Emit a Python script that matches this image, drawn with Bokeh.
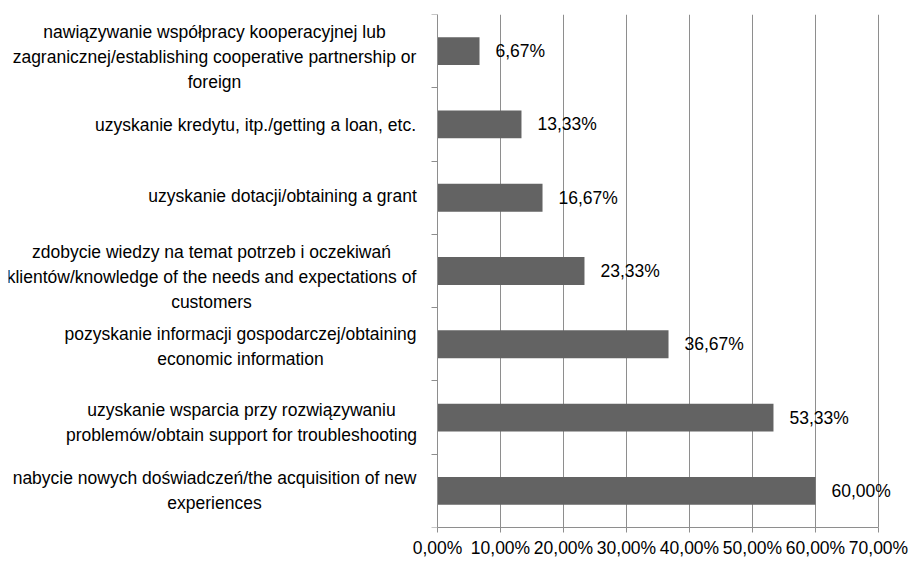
from bokeh.plotting import figure
from bokeh.models import Range1d, FixedTicker, CustomLabelingPolicy
from bokeh.core.properties import value
from bokeh.embed import file_html
from bokeh.resources import INLINE

# Data (bottom to top, as drawn)
categories = [
    "nabycie nowych doświadczeń/the acquisition of new\nexperiences",
    "uzyskanie wsparcia przy rozwiązywaniu\nproblemów/obtain support for troubleshooting",
    "pozyskanie informacji gospodarczej/obtaining\neconomic information",
    "zdobycie wiedzy na temat potrzeb i oczekiwań\nklientów/knowledge of the needs and expectations of\ncustomers",
    "uzyskanie dotacji/obtaining a grant",
    "uzyskanie kredytu, itp./getting a loan, etc.",
    "nawiązywanie współpracy kooperacyjnej lub\nzagranicznej/establishing cooperative partnership or\nforeign",
]
values = [60.00, 53.33, 36.67, 23.33, 16.67, 13.33, 6.67]
x_ticks = [0, 10, 20, 30, 40, 50, 60, 70]
x_tick_labels = ["0,00%", "10,00%", "20,00%", "30,00%", "40,00%", "50,00%", "60,00%", "70,00%"]

# layout of the category label blocks: centre x (px on the page), vertical nudge (px, + = down)
label_centre_px = [214, 241, 240, 211, 282, 255, 214]
label_nudge_px = [0, 5, 2, 6, -2, 1, 6]

FONT = "Liberation Sans"
GRID = "#8e8e8e"
FS = "17.5px"
W, H = 908, 564
TOP, BOTTOM, LEFT = 14, 37, 8
AXIS_X = 437          # page x of the value 0 (the category axis)
PX_PER_UNIT = 6.3     # px per percentage point (70% -> x=878)

n = len(categories)
pos = list(range(n))

# The frame spans the whole width; the category axis is fixed at value 0 inside it.
x_start = -(AXIS_X - LEFT) / PX_PER_UNIT
x_end = (W - AXIS_X) / PX_PER_UNIT

p = figure(width=W, height=H, output_backend="svg", toolbar_location=None,
           x_range=Range1d(x_start, x_end), y_range=Range1d(-0.5, n - 0.5),
           min_border_left=LEFT, min_border_right=0, min_border_top=TOP, min_border_bottom=BOTTOM)
p.outline_line_color = None
p.background_fill_color = "white"
p.border_fill_color = "white"

p.hbar(y=pos, left=0, right=values, height=0.38,
       fill_color="#636363", line_color=None)

xa = p.xaxis[0]
xa.ticker = FixedTicker(ticks=x_ticks)
xa.bounds = (0, 70)
xa.major_label_overrides = {t: l for t, l in zip(x_ticks, x_tick_labels)}
xa.axis_line_color = GRID
xa.major_tick_line_color = GRID
xa.major_tick_out = 5
xa.major_tick_in = 0
xa.minor_tick_line_color = None
xa.major_label_text_font = FONT
xa.major_label_text_font_size = FS
xa.major_label_text_color = "black"
xa.major_label_standoff = 5

# category axis: line + tick marks between categories, no tick labels of its own
y_bounds = [i - 0.5 for i in range(n + 1)]
ya = p.yaxis[0]
ya.fixed_location = 0
ya.ticker = FixedTicker(ticks=y_bounds)
ya.major_label_overrides = {t: "" for t in y_bounds}
ya.major_label_policy = CustomLabelingPolicy(code="return new Set()")
ya.major_label_text_font_size = "0px"
ya.major_label_standoff = 0
ya.axis_line_color = GRID
ya.major_tick_line_color = GRID
ya.major_tick_out = 6
ya.major_tick_in = 0
ya.minor_tick_line_color = None

p.xgrid.ticker = FixedTicker(ticks=x_ticks)
p.xgrid.bounds = (0, 70)
p.xgrid.grid_line_color = GRID
p.ygrid.grid_line_color = None

# value labels
p.text(x=values, y=pos, text=[f"{v:.2f}".replace(".", ",") + "%" for v in values],
       x_offset=16, text_baseline="middle", text_align="left",
       text_font=value(FONT), text_font_size=FS, text_color="black")

# category labels (multi-line, centred lines), left of the category axis
p.text(x=[0] * n, y=pos, text=categories,
       x_offset=[c - AXIS_X for c in label_centre_px], y_offset=label_nudge_px,
       text_align="center", text_baseline="middle",
       text_font=value(FONT), text_font_size=FS, text_color="black",
       text_line_height=1.24)

open("out.html", "w").write(file_html(p, INLINE))
